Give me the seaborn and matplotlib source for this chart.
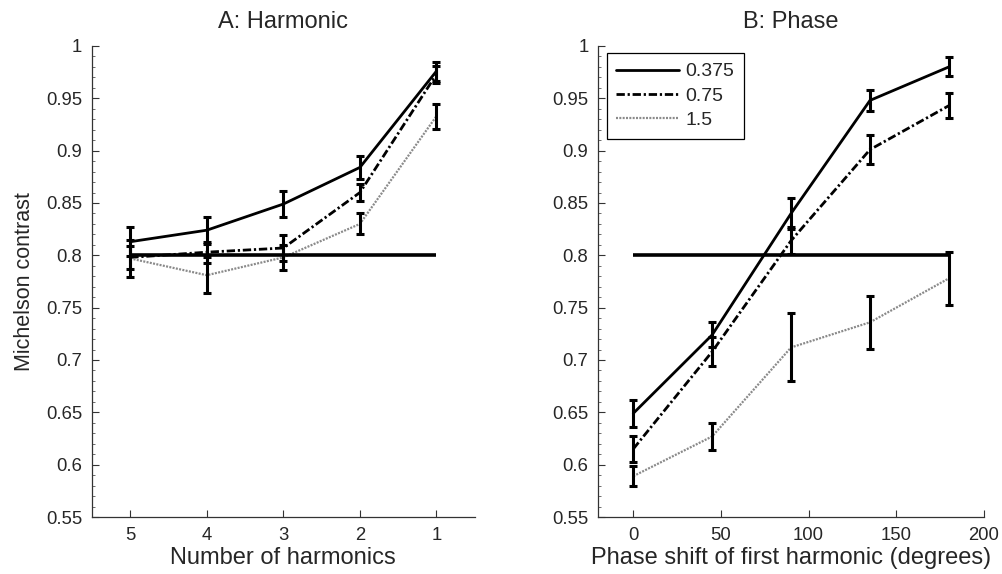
import numpy as np
import pandas as pd
import matplotlib
matplotlib.use("Agg")
import matplotlib.pyplot as plt
from matplotlib.ticker import MultipleLocator, FuncFormatter
import seaborn as sns

# ---------------- data ----------------
series_labels = ["0.375", "0.75", "1.5"]

harmonics = [5, 4, 3, 2, 1]
harm_mean_0375 = [0.813, 0.824, 0.849, 0.884, 0.976]
harm_err_0375 = [0.014, 0.013, 0.012, 0.011, 0.009]
harm_mean_075 = [0.798, 0.803, 0.807, 0.860, 0.973]
harm_err_075 = [0.011, 0.010, 0.012, 0.008, 0.008]
harm_mean_15 = [0.797, 0.781, 0.798, 0.830, 0.933]
harm_err_15 = [0.018, 0.017, 0.012, 0.010, 0.012]

phases = [0, 45, 90, 135, 180]
phase_mean_0375 = [0.649, 0.724, 0.840, 0.948, 0.980]
phase_err_0375 = [0.013, 0.012, 0.015, 0.010, 0.009]
phase_mean_075 = [0.615, 0.708, 0.814, 0.901, 0.943]
phase_err_075 = [0.012, 0.014, 0.013, 0.014, 0.012]
phase_mean_15 = [0.589, 0.627, 0.712, 0.736, 0.778]
phase_err_15 = [0.0095, 0.0127, 0.0325, 0.0255, 0.0254]

reference_level = 0.8

# ---------------- style ----------------
sns.set_style("ticks")
plt.rcParams["font.family"] = ["Liberation Sans", "DejaVu Sans"]
plt.rcParams["font.size"] = 13

styles = {
    "0.375": dict(color="black", lw=2.0, dashes=None),
    "0.75": dict(color="black", lw=2.0, dashes=(3.0, 1.0, 0.8, 1.0)),
    "1.5": dict(color="#8a8a8a", lw=1.6, dashes=(0.9, 0.6)),
}

fig = plt.figure(figsize=(10.02, 5.74), dpi=100)
axA = fig.add_axes([0.0918, 0.0993, 0.382, 0.8206])
axB = fig.add_axes([0.597, 0.0993, 0.385, 0.8206])


def draw_panel(ax, xs, means, errs, title, xlabel):
    handles = []
    for lab, m, e in zip(series_labels, means, errs):
        df = pd.DataFrame({"x": xs, "y": m})
        st = styles[lab]
        n_before = len(ax.get_lines())
        sns.lineplot(data=df, x="x", y="y", ax=ax, color=st["color"],
                     linewidth=st["lw"], sort=False, legend=False)
        line = ax.get_lines()[n_before]
        if st["dashes"] is not None:
            line.set_dashes(st["dashes"])
        handles.append(line)
        ax.errorbar(xs, m, yerr=e, fmt="none", ecolor="black",
                    elinewidth=2.2, capsize=3.0, capthick=2.2, zorder=3)
    ax.hlines(reference_level, min(xs), max(xs), color="black", lw=2.6, zorder=4)
    ax.set_title(title, fontsize=17, pad=13)
    ax.set_xlabel(xlabel, fontsize=17, labelpad=2)
    ax.set_ylim(0.55, 1.0)
    ax.yaxis.set_major_locator(MultipleLocator(0.05))
    ax.yaxis.set_minor_locator(MultipleLocator(0.01))
    ax.yaxis.set_major_formatter(FuncFormatter(lambda v, p: "%g" % round(v, 3)))
    ax.tick_params(axis="both", which="major", direction="in", length=5,
                   width=0.8, labelsize=13.3, pad=7, color="#333333")
    ax.tick_params(axis="y", which="minor", direction="in", length=2.5,
                   width=0.6, color="#555555")
    for s in ["top", "right"]:
        ax.spines[s].set_visible(False)
    for s in ["left", "bottom"]:
        ax.spines[s].set_linewidth(0.9)
        ax.spines[s].set_color("#333333")
    return handles


draw_panel(axA, harmonics,
           [harm_mean_0375, harm_mean_075, harm_mean_15],
           [harm_err_0375, harm_err_075, harm_err_15],
           "A: Harmonic", "Number of harmonics")
axA.set_xlim(5.5, 0.5)
axA.set_xticks(harmonics)
axA.set_ylabel("Michelson contrast", fontsize=15.5, labelpad=8)

handles = draw_panel(axB, phases,
                     [phase_mean_0375, phase_mean_075, phase_mean_15],
                     [phase_err_0375, phase_err_075, phase_err_15],
                     "B: Phase", "Phase shift of first harmonic (degrees)")
axB.set_xlim(-20, 200)
axB.set_xticks([0, 50, 100, 150, 200])
axB.set_ylabel("")
leg = axB.legend(handles=handles, labels=series_labels, loc="upper left",
                 bbox_to_anchor=(0.022, 0.985), fontsize=14, frameon=True,
                 fancybox=False, edgecolor="black", handlelength=3.2,
                 handletextpad=0.35, borderpad=0.5, labelspacing=0.35,
                 borderaxespad=0.0, framealpha=1.0)
leg.get_frame().set_linewidth(0.9)

fig.savefig("out.png", dpi=100)
